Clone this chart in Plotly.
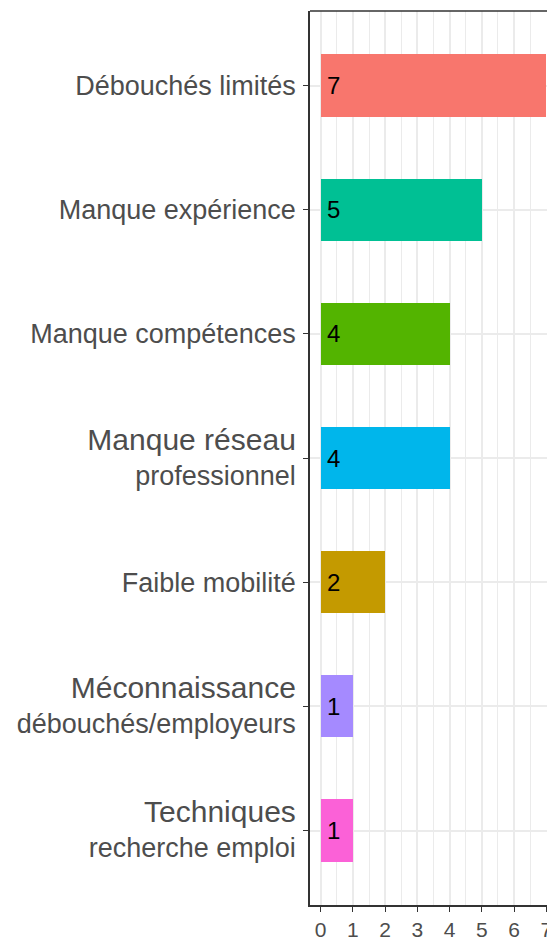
import plotly.graph_objects as go

categories = [
    "Débouchés limités",
    "Manque expérience",
    "Manque compétences",
    ("Manque réseau", "professionnel"),
    "Faible mobilité",
    ("Méconnaissance", "débouchés/employeurs"),
    ("Techniques", "recherche emploi"),
]
values = [7, 5, 4, 4, 2, 1, 1]
colors = ["#F8766D", "#00C094", "#53B400", "#00B6EB", "#C49A00", "#A58AFF", "#FB61D7"]
x_ticks = [0, 1, 2, 3, 4, 5, 6, 7]

FONT = "Liberation Sans, Arial, sans-serif"


def label(c):
    if isinstance(c, tuple):
        return '<span style="font-size:30px">' + c[0] + "</span><br>" + c[1]
    return c


labels = [label(c) for c in categories]
ypos = list(range(len(categories)))

fig = go.Figure()
fig.add_trace(go.Bar(
    x=values, y=ypos, orientation="h", width=0.5,
    marker=dict(color=colors, line=dict(width=0)),
    showlegend=False, hoverinfo="skip",
))

for i, v in enumerate(values):
    fig.add_annotation(x=0, y=i, xref="x", yref="y", text=str(v), showarrow=False,
                       xanchor="left", yanchor="middle", xshift=4,
                       font=dict(family=FONT, size=24, color="black"))

fig.add_shape(type="line", xref="paper", yref="paper", x0=0, x1=1.05, y0=1, y1=1,
              line=dict(color="#333333", width=1.5))

fig.update_layout(
    width=547, height=940,
    margin=dict(l=309.5, r=0, t=11, b=35, autoexpand=False),
    paper_bgcolor="white", plot_bgcolor="white",
    font=dict(family=FONT, color="#4D4D4D"),
    bargap=0,
)
fig.update_xaxes(
    range=[-0.33, 7.02], tickvals=x_ticks, ticktext=[str(t) for t in x_ticks],
    showgrid=True, gridcolor="#EBEBEB", gridwidth=1.8,
    minor=dict(dtick=0.5, tick0=0, showgrid=True, gridcolor="#EBEBEB", gridwidth=1.3),
    showline=True, linecolor="#333333", linewidth=1.5,
    ticks="outside", ticklen=5, tickwidth=1.2, tickcolor="#333333",
    tickfont=dict(family=FONT, size=21, color="#4D4D4D"),
    ticklabeloverflow="allow",
    zeroline=False, fixedrange=True,
)
fig.update_yaxes(
    range=[6.6, -0.6], tickvals=ypos, ticktext=labels,
    showgrid=True, gridcolor="#EBEBEB", gridwidth=1.8,
    showline=True, linecolor="#333333", linewidth=1.5,
    ticks="outside", ticklen=5, tickwidth=1.2, tickcolor="#333333",
    tickfont=dict(family=FONT, size=27, color="#4D4D4D"),
    ticklabelstandoff=2,
    zeroline=False, fixedrange=True,
)

fig.write_html(
    "out.html",
    config={"displayModeBar": False},
    post_script="document.body.style.margin='0';document.body.style.overflow='hidden';",
)
